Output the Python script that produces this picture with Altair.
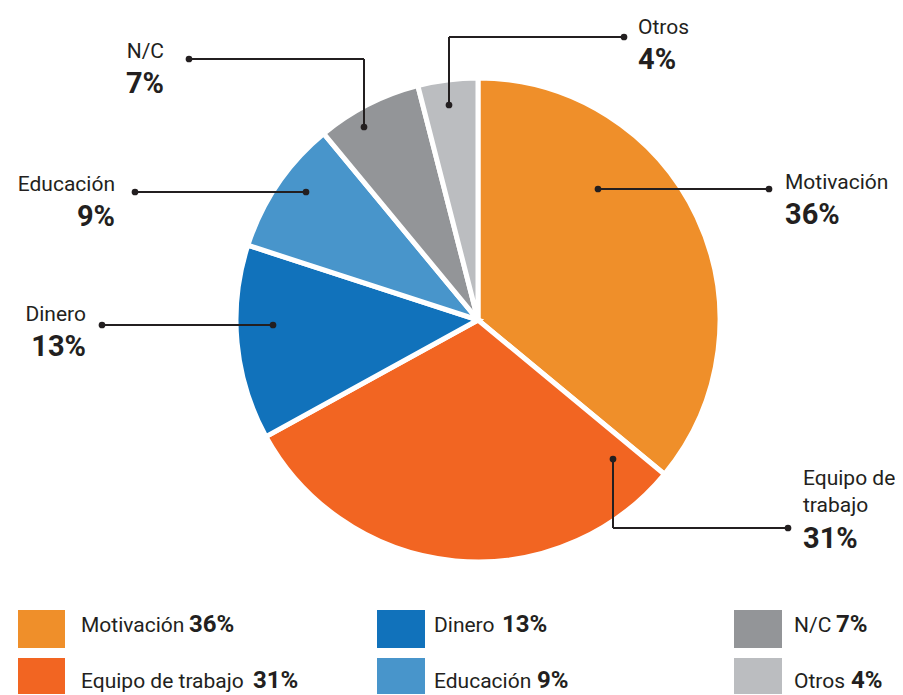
import altair as alt
import pandas as pd

# ---- data ----
categories = ["Motivación", "Equipo de trabajo", "Dinero", "Educación", "N/C", "Otros"]
values = [36, 31, 13, 9, 7, 4]
colors = ["#EF8F2A", "#F26522", "#1172BB", "#4895CB", "#939598", "#BBBDC0"]

# callout label lines (text, x, baseline y, align, bold)
label_texts = ["Motivación", "36%", "Equipo de", "trabajo", "31%", "Dinero", "13%",
               "Educación", "9%", "N/C", "7%", "Otros", "4%"]
label_x = [785, 785, 803, 803, 803, 86, 86, 115, 115, 164, 164, 638, 638]
label_y = [189, 224, 485, 512, 548, 321, 356, 191, 226, 58, 93, 34, 69]
label_align = ["left", "left", "left", "left", "left", "right", "right",
               "right", "right", "right", "right", "left", "left"]
label_bold = [False, True, False, False, True, False, True, False, True, False, True, False, True]

# leader line segments
seg_x = [598, 613, 613, 102, 135, 189, 364, 624, 449]
seg_y = [189, 459, 528, 325, 192, 59, 59, 37, 37]
seg_x2 = [769, 613, 788, 273, 306, 364, 364, 449, 449]
seg_y2 = [189, 528, 528, 325, 192, 59, 127, 37, 105]
dot_x = [598, 769, 613, 788, 102, 273, 135, 306, 189, 364, 624, 449]
dot_y = [189, 189, 459, 528, 325, 325, 192, 192, 59, 127, 37, 105]

# legend layout
leg_x = [18, 18, 377, 377, 734, 734]
leg_x2 = [65, 65, 425, 425, 782, 782]
leg_y = [610, 658, 610, 658, 610, 658]
leg_y2 = [648, 696, 648, 696, 648, 696]
leg_text_x = [81, 81, 434, 434, 794, 794]
leg_pct_x = [189, 253, 502, 537, 836, 851]
leg_base_y = [632, 688, 632, 688, 632, 688]

FONT = "Roboto"
INK = "#231F20"
W, H = 887, 679

xs = alt.Scale(domain=[8, 8 + W], range=[0, W])
ys = alt.Scale(domain=[8, 8 + H], range=[0, H])

pie_df = pd.DataFrame({"cat": categories, "val": values, "idx": list(range(len(categories)))})
col_scale = alt.Scale(domain=categories, range=colors)

pie = alt.Chart(pie_df).mark_arc(stroke="white", strokeWidth=5).encode(
    theta=alt.Theta("val:Q", stack=True),
    order=alt.Order("idx:Q"),
    color=alt.Color("cat:N", scale=col_scale, legend=None),
    x=alt.value(478 - 8),
    y=alt.value(320 - 8),
    radius=alt.value(242),
)

seg_df = pd.DataFrame({"x": seg_x, "y": seg_y, "x2": seg_x2, "y2": seg_y2})
segs = alt.Chart(seg_df).mark_rule(color=INK, strokeWidth=2).encode(
    x=alt.X("x:Q", scale=xs, axis=None),
    y=alt.Y("y:Q", scale=ys, axis=None),
    x2="x2:Q",
    y2="y2:Q",
)

dot_df = pd.DataFrame({"x": dot_x, "y": dot_y})
dots = alt.Chart(dot_df).mark_circle(color=INK, opacity=1, size=45).encode(
    x=alt.X("x:Q", scale=xs, axis=None),
    y=alt.Y("y:Q", scale=ys, axis=None),
)

lab_df = pd.DataFrame({"t": label_texts, "x": label_x, "y": label_y,
                       "al": label_align, "b": label_bold})


def text_layer(df, align, bold, size):
    sub = df[(df["al"] == align) & (df["b"] == bold)]
    return alt.Chart(sub).mark_text(
        font=FONT, fontSize=size, fontWeight="bold" if bold else "normal",
        align=align, baseline="alphabetic", color=INK,
    ).encode(
        x=alt.X("x:Q", scale=xs, axis=None),
        y=alt.Y("y:Q", scale=ys, axis=None),
        text="t:N",
    )


labels = [
    text_layer(lab_df, "left", False, 21),
    text_layer(lab_df, "left", True, 29),
    text_layer(lab_df, "right", False, 21),
    text_layer(lab_df, "right", True, 29),
]

leg_df = pd.DataFrame({
    "cat": categories, "x": leg_x, "x2": leg_x2, "y": leg_y, "y2": leg_y2,
    "tx": leg_text_x, "px": leg_pct_x, "by": leg_base_y,
    "pct": [f"{v}%" for v in values],
})

leg_rect = alt.Chart(leg_df).mark_rect().encode(
    x=alt.X("x:Q", scale=xs, axis=None),
    x2="x2:Q",
    y=alt.Y("y:Q", scale=ys, axis=None),
    y2="y2:Q",
    color=alt.Color("cat:N", scale=col_scale, legend=None),
)
leg_name = alt.Chart(leg_df).mark_text(
    font=FONT, fontSize=21, align="left", baseline="alphabetic", color=INK
).encode(
    x=alt.X("tx:Q", scale=xs, axis=None),
    y=alt.Y("by:Q", scale=ys, axis=None),
    text="cat:N",
)
leg_pct = alt.Chart(leg_df).mark_text(
    font=FONT, fontSize=24, fontWeight="bold", align="left", baseline="alphabetic", color=INK
).encode(
    x=alt.X("px:Q", scale=xs, axis=None),
    y=alt.Y("by:Q", scale=ys, axis=None),
    text="pct:N",
)

chart = alt.layer(pie, segs, dots, *labels, leg_rect, leg_name, leg_pct).properties(
    width=W, height=H,
    autosize=alt.AutoSizeParams(type="none"),
    padding={"left": 0, "top": 0, "right": 0, "bottom": 7},
).configure_view(stroke=None).resolve_scale(color="shared")

chart.save("out.html", embed_options={"renderer": "svg", "actions": False})
